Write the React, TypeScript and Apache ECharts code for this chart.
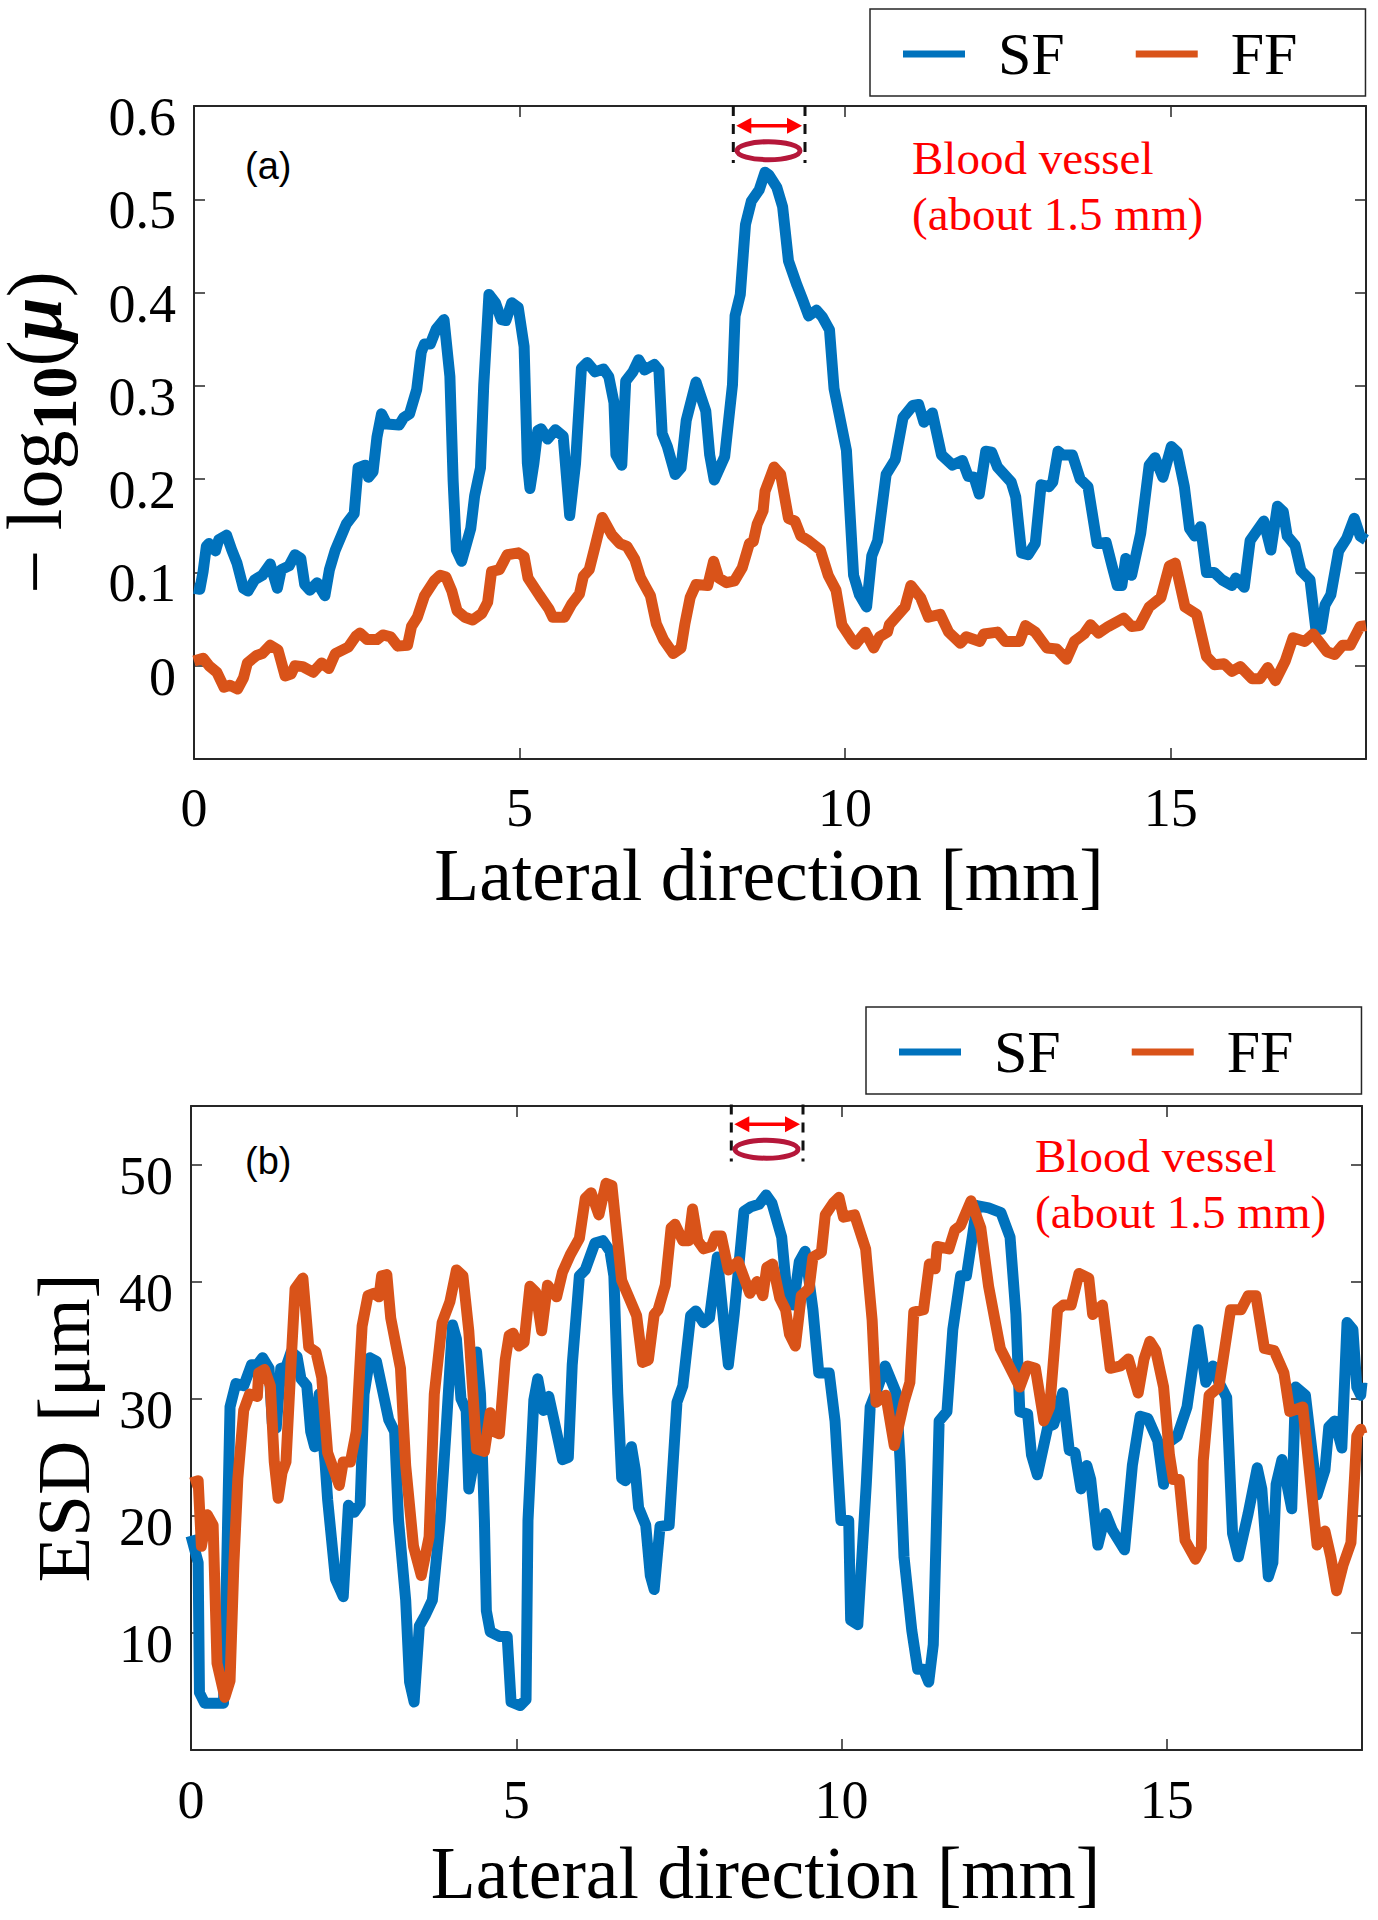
import React, { useEffect, useRef } from "react";
import * as echarts from "echarts";

type Pt = [number, number];

const xTitle = "Lateral direction [mm]";
const vesselText = "Blood vessel\n(about 1.5 mm)";
const SERIF = '"Liberation Serif", "Times New Roman", serif';
const SANS = '"Liberation Sans", Arial, sans-serif';
const BLUE = "#0072BD";
const ORANGE = "#D95319";
const FRAME = "#262626";

const sfMu: Pt[] = [[0,.083],[.09,.082],[.14,.101],[.19,.128],[.23,.131],[.33,.123],[.38,.135],[.5,.14],[.58,.124],[.66,.11],[.76,.083],[.83,.08],[.93,.092],[1.05,.097],[1.17,.109],[1.28,.083],[1.34,.103],[1.46,.107],[1.55,.119],[1.64,.115],[1.7,.087],[1.78,.081],[1.89,.089],[2.01,.075],[2.08,.103],[2.17,.124],[2.34,.152],[2.46,.163],[2.52,.212],[2.63,.215],[2.68,.202],[2.75,.208],[2.81,.245],[2.88,.27],[2.96,.259],[3.15,.258],[3.22,.266],[3.31,.27],[3.42,.296],[3.49,.336],[3.54,.345],[3.63,.345],[3.72,.361],[3.84,.371],[3.93,.31],[3.98,.198],[4.03,.124],[4.11,.112],[4.25,.147],[4.31,.182],[4.4,.212],[4.45,.301],[4.53,.398],[4.63,.389],[4.72,.371],[4.79,.37],[4.88,.389],[4.98,.384],[5.07,.342],[5.12,.217],[5.16,.19],[5.22,.217],[5.28,.252],[5.33,.254],[5.43,.243],[5.55,.253],[5.67,.246],[5.77,.161],[5.86,.217],[5.95,.319],[6.04,.325],[6.16,.315],[6.29,.318],[6.37,.31],[6.45,.282],[6.48,.226],[6.57,.215],[6.63,.305],[6.74,.315],[6.83,.328],[6.92,.317],[7.07,.323],[7.14,.317],[7.19,.249],[7.27,.235],[7.39,.205],[7.48,.212],[7.56,.263],[7.71,.304],[7.86,.273],[7.92,.226],[7.99,.199],[8.15,.224],[8.27,.301],[8.31,.375],[8.39,.398],[8.47,.473],[8.56,.498],[8.68,.51],[8.77,.529],[8.83,.526],[8.95,.513],[9.04,.492],[9.13,.434],[9.26,.408],[9.35,.392],[9.44,.375],[9.56,.381],[9.65,.374],[9.76,.36],[9.83,.297],[10.02,.231],[10.13,.097],[10.22,.076],[10.33,.063],[10.41,.118],[10.5,.134],[10.63,.205],[10.77,.221],[10.89,.266],[11.04,.279],[11.13,.28],[11.21,.261],[11.34,.271],[11.48,.226],[11.65,.215],[11.8,.22],[11.89,.203],[11.98,.202],[12.06,.184],[12.16,.23],[12.25,.229],[12.34,.213],[12.55,.197],[12.62,.181],[12.71,.121],[12.81,.119],[12.92,.131],[13.01,.194],[13.13,.192],[13.19,.197],[13.27,.23],[13.34,.226],[13.49,.226],[13.61,.2],[13.73,.192],[13.87,.131],[14.01,.132],[14.1,.107],[14.18,.086],[14.25,.086],[14.31,.115],[14.4,.097],[14.54,.142],[14.67,.215],[14.76,.223],[14.88,.202],[15.01,.235],[15.1,.229],[15.21,.192],[15.29,.147],[15.37,.139],[15.46,.149],[15.55,.1],[15.67,.1],[15.79,.092],[15.94,.086],[16,.094],[16.13,.084],[16.22,.134],[16.43,.155],[16.54,.124],[16.64,.171],[16.73,.165],[16.79,.139],[16.91,.129],[17,.102],[17.14,.092],[17.23,.039],[17.31,.039],[17.37,.065],[17.46,.076],[17.58,.123],[17.7,.136],[17.82,.158],[17.91,.139],[18,.135]];

const ffMu: Pt[] = [[0,.005],[.14,.008],[.23,0],[.35,-.007],[.46,-.023],[.55,-.021],[.67,-.025],[.76,-.013],[.82,.003],[.96,.011],[1.05,.013],[1.17,.022],[1.29,.017],[1.4,-.011],[1.49,-.009],[1.55,0],[1.67,-.001],[1.83,-.007],[1.96,.003],[2.07,-.003],[2.17,.013],[2.37,.02],[2.49,.032],[2.55,.035],[2.66,.028],[2.81,.028],[2.9,.033],[3.02,.031],[3.13,.021],[3.28,.022],[3.34,.042],[3.43,.052],[3.54,.075],[3.69,.091],[3.78,.097],[3.87,.095],[3.96,.08],[4.04,.059],[4.16,.052],[4.28,.049],[4.42,.056],[4.51,.068],[4.57,.101],[4.69,.103],[4.81,.119],[4.98,.121],[5.07,.117],[5.13,.094],[5.31,.075],[5.45,.061],[5.51,.052],[5.69,.052],[5.8,.066],[5.92,.077],[5.98,.096],[6.07,.103],[6.16,.128],[6.27,.159],[6.42,.14],[6.54,.131],[6.65,.128],[6.77,.114],[6.86,.094],[7.01,.075],[7.1,.045],[7.21,.028],[7.36,.013],[7.48,.019],[7.54,.045],[7.62,.073],[7.71,.087],[7.89,.086],[7.98,.112],[8.06,.094],[8.18,.089],[8.3,.091],[8.42,.105],[8.53,.131],[8.59,.133],[8.65,.152],[8.74,.166],[8.77,.187],[8.91,.213],[9.01,.205],[9.13,.158],[9.23,.155],[9.32,.139],[9.44,.134],[9.62,.124],[9.74,.097],[9.86,.081],[9.95,.044],[10.1,.028],[10.16,.023],[10.31,.036],[10.44,.019],[10.53,.031],[10.65,.036],[10.68,.044],[10.92,.063],[11.01,.086],[11.16,.073],[11.28,.052],[11.46,.055],[11.59,.036],[11.77,.024],[11.86,.031],[12.07,.026],[12.13,.034],[12.34,.036],[12.46,.026],[12.68,.026],[12.77,.043],[12.92,.036],[13.1,.019],[13.25,.018],[13.4,.007],[13.52,.026],[13.67,.034],[13.77,.044],[13.89,.035],[14.04,.042],[14.28,.051],[14.4,.042],[14.52,.043],[14.67,.063],[14.85,.073],[14.98,.107],[15.07,.11],[15.22,.063],[15.4,.055],[15.55,.01],[15.67,.001],[15.82,.002],[15.94,-.006],[16.07,-.001],[16.25,-.014],[16.37,-.014],[16.49,-.002],[16.61,-.016],[16.76,.005],[16.88,.03],[17.06,.026],[17.19,.034],[17.4,.015],[17.52,.012],[17.64,.022],[17.76,.022],[17.91,.042],[18,.043]];

const sfEsd: Pt[] = [[0,18.3],[.11,16],[.13,4.9],[.21,4],[.5,4],[.55,16],[.6,29.3],[.69,31.3],[.81,31.1],[.93,32.9],[1.02,32.9],[1.1,33.5],[1.2,32.6],[1.25,27.9],[1.31,27.5],[1.38,32.6],[1.46,32.7],[1.54,34],[1.63,33.6],[1.69,31.7],[1.78,31.1],[1.84,27.2],[1.9,25.9],[1.97,30.4],[2.06,24.6],[2.1,21.4],[2.22,14.6],[2.34,13.1],[2.42,20.9],[2.51,20.3],[2.6,21],[2.66,30.4],[2.75,33.5],[2.85,33.2],[3.04,28.2],[3.13,27.2],[3.19,19.6],[3.3,12.8],[3.36,5.8],[3.43,4.1],[3.51,10.6],[3.6,11.5],[3.71,12.8],[3.83,19.6],[3.92,27.2],[4.02,36.3],[4.08,35.1],[4.15,30],[4.23,29],[4.27,22.3],[4.36,25],[4.39,34],[4.45,30.4],[4.51,19.6],[4.54,11.9],[4.6,10.1],[4.74,9.7],[4.86,9.7],[4.92,4.1],[5.06,3.8],[5.15,4.3],[5.18,19.6],[5.27,29.9],[5.33,31.7],[5.42,29],[5.5,30.2],[5.59,27.9],[5.71,24.8],[5.8,25],[5.86,32.9],[5.97,40.5],[6.06,41],[6.21,43.3],[6.33,43.5],[6.44,42.6],[6.5,40.5],[6.56,30.4],[6.62,23.2],[6.68,23],[6.77,25.9],[6.83,23.9],[6.88,20.7],[6.99,19.2],[7.06,14.9],[7.12,13.7],[7.21,19.1],[7.35,19.2],[7.47,29.7],[7.56,31.1],[7.68,37.1],[7.76,37.5],[7.88,36.5],[7.97,36.9],[8.09,42.1],[8.17,37.6],[8.26,32.9],[8.35,37.2],[8.5,46],[8.61,46.4],[8.73,46.6],[8.84,47.4],[8.93,46.7],[9.08,43.8],[9.17,38.4],[9.26,38],[9.35,41.7],[9.44,42.6],[9.56,37.6],[9.65,32.2],[9.81,32.2],[9.9,28.1],[9.99,19.6],[10.11,19.6],[10.14,11.1],[10.25,10.7],[10.38,22.7],[10.44,29.3],[10.56,31],[10.67,32.8],[10.84,30.5],[10.9,24.7],[10.96,16.5],[11.08,10.2],[11.17,6.9],[11.26,6.9],[11.34,5.8],[11.41,9],[11.5,28.1],[11.62,28.9],[11.71,35.9],[11.83,40.5],[11.92,40.5],[12.02,44.2],[12.08,46.5],[12.26,46.3],[12.45,45.9],[12.59,43.8],[12.68,37.2],[12.74,28.9],[12.86,28.7],[12.92,25.2],[13.01,23.5],[13.17,27.6],[13.26,27.8],[13.4,30.5],[13.5,25.6],[13.59,25.4],[13.68,22.3],[13.77,24.3],[13.83,23.1],[13.94,17.5],[14.06,20.2],[14.16,18.8],[14.35,17.1],[14.47,24.3],[14.59,28.5],[14.71,28.3],[14.86,26.4],[14.95,22.7],[15.01,26.2],[15.16,26.8],[15.31,29.3],[15.48,35.9],[15.6,31.4],[15.71,32.8],[15.8,31.4],[15.92,30.1],[16.01,18.5],[16.1,16.5],[16.25,20.2],[16.39,24.1],[16.46,22.3],[16.56,14.8],[16.63,16],[16.68,22.7],[16.77,24.8],[16.92,20.6],[16.98,31],[17.13,30.3],[17.31,21.8],[17.43,23.9],[17.49,27.6],[17.58,28.1],[17.69,25.8],[17.77,36.5],[17.86,35.9],[17.92,31],[17.98,30.3],[18,31.4]];

const ffEsd: Pt[] = [[0,22.8],[.11,23],[.16,17.4],[.25,20.1],[.34,19.2],[.4,7.4],[.52,4.5],[.6,5.9],[.66,16],[.72,23.2],[.81,29],[.9,30.4],[1.02,30.2],[1.04,32.2],[1.13,32.5],[1.22,31.1],[1.28,24.6],[1.34,21.5],[1.4,23.7],[1.46,24.6],[1.54,33.3],[1.6,39.4],[1.72,40.3],[1.81,34.4],[1.92,34],[2.01,31.8],[2.1,25.4],[2.28,22.6],[2.34,24.6],[2.45,24.6],[2.54,27.2],[2.63,36.2],[2.72,38.8],[2.81,39],[2.89,38.7],[2.93,40.5],[3.01,40.6],[3.07,36.9],[3.22,32.6],[3.3,24.3],[3.42,17.4],[3.54,14.9],[3.66,18.2],[3.74,30.4],[3.86,36.5],[3.98,38.3],[4.08,41],[4.18,40.5],[4.27,35.8],[4.39,25.7],[4.51,25.5],[4.6,28.8],[4.65,27.2],[4.74,27],[4.83,33.3],[4.89,35.4],[4.95,35.6],[5.04,34.5],[5.12,34.8],[5.21,39.6],[5.3,39.1],[5.39,35.8],[5.48,39.7],[5.62,38.7],[5.71,40.8],[5.83,42.3],[5.97,43.7],[6.06,47.1],[6.15,47.6],[6.27,45.7],[6.38,48.4],[6.47,48.2],[6.62,40.1],[6.85,37.1],[6.94,33.1],[7.03,33.3],[7.12,37.2],[7.18,37.6],[7.29,39.7],[7.38,44.6],[7.44,44.9],[7.56,43.5],[7.65,43.5],[7.71,46.2],[7.79,43.5],[7.88,42.8],[8,43],[8.06,43.9],[8.15,43.9],[8.26,41],[8.41,41.7],[8.59,39],[8.7,40],[8.79,38.8],[8.85,41.2],[8.94,41.5],[9.05,38.6],[9.14,37.6],[9.2,35.5],[9.29,34.5],[9.38,38.8],[9.5,39.4],[9.56,42.1],[9.69,42.5],[9.75,45.7],[9.87,46.7],[9.96,47.2],[10.03,45.5],[10.2,45.7],[10.37,42.8],[10.47,36.7],[10.53,29.7],[10.68,30.3],[10.81,26],[10.96,29.7],[11.05,31.4],[11.11,37.4],[11.26,37.6],[11.35,41.5],[11.44,41.1],[11.47,43],[11.65,42.8],[11.74,44.4],[11.83,44.8],[11.99,46.9],[12.14,44.6],[12.26,39.6],[12.44,34.3],[12.74,31],[12.86,32.8],[12.98,32.6],[13.11,28.1],[13.2,29.3],[13.32,37.6],[13.41,38],[13.53,38],[13.65,40.7],[13.8,40.3],[13.86,37.2],[14.01,38],[14.13,32.6],[14.29,32.8],[14.41,33.4],[14.56,30.5],[14.65,33.4],[14.74,34.9],[14.83,34.1],[14.95,31],[15.04,25.2],[15.1,23.1],[15.19,23.1],[15.28,17.9],[15.44,16.3],[15.53,17.3],[15.56,24.7],[15.65,30.3],[15.8,31],[15.98,37.6],[16.14,37.6],[16.25,38.8],[16.37,38.8],[16.5,34.3],[16.65,34.1],[16.8,32.2],[16.89,28.9],[17.09,29.3],[17.31,17.5],[17.43,18.7],[17.52,16.5],[17.61,13.6],[17.71,15.8],[17.83,17.7],[17.92,26.8],[17.98,27.4],[18,27]];

function xAxes(gridIndex: number, nameGap: number, margin: number) {
  const base = { type: "value", gridIndex, min: 0, max: 18, interval: 5, splitLine: { show: false }, axisLine: { show: true, onZero: false, lineStyle: { color: FRAME, width: 2 } }, axisTick: { show: true, inside: true, length: 11, lineStyle: { color: FRAME, width: 1.5 } } };
  return [
    { ...base, position: "bottom", name: xTitle, nameLocation: "middle", nameGap, nameTextStyle: { fontFamily: SERIF, fontSize: 73.5, color: "#000", padding: [0, 22, 0, 0] },
      axisLabel: { show: true, margin, fontFamily: SERIF, fontSize: 54, color: "#000", showMaxLabel: false, formatter: (v: number) => (v % 5 === 0 ? String(v) : "") } },
    { ...base, position: "top", axisLabel: { show: false } },
  ];
}

function yAxes(gridIndex: number, min: number, max: number, interval: number, fmt: (v: number) => string, axisName: any) {
  const base = { type: "value", gridIndex, min, max, interval, splitLine: { show: false }, axisLine: { show: true, onZero: false, lineStyle: { color: FRAME, width: 2 } }, axisTick: { show: true, inside: true, length: 11, lineStyle: { color: FRAME, width: 1.5 } } };
  return [
    { ...base, position: "left", ...axisName, axisLabel: { show: true, margin: 18, verticalAlign: "top", lineHeight: 22, fontFamily: SERIF, fontSize: 54, color: "#000", formatter: fmt } },
    { ...base, position: "right", axisLabel: { show: false } },
  ];
}

function line(name: string, color: string, data: Pt[], axisIndex: number) {
  return { type: "line", name, data, xAxisIndex: axisIndex, yAxisIndex: axisIndex, showSymbol: false, symbol: "none", clip: true, itemStyle: { color }, lineStyle: { color, width: 11, join: "round", cap: "butt" } };
}

function legend(left: number, top: number) {
  return { show: true, data: ["SF", "FF"], orient: "horizontal", left, top, selectedMode: false, icon: "rect", itemWidth: 62, itemHeight: 7, itemGap: 71, padding: [15, 68, 12, 33], borderColor: FRAME, borderWidth: 1.5, backgroundColor: "#fff",
    textStyle: { fontFamily: SERIF, fontSize: 60, color: "#000", padding: [10, 0, 0, 28] } };
}

function vessel(dx: number, dy: number, tag: string, tagX: number, tagY: number, textX: number, textY: number) {
  const L = 733.3 + dx, R = 805 + dx, top = 106 + dy, bot = 163 + dy, ay = 125.7 + dy;
  const cx = 768.5 + dx, cy = 150.7 + dy;
  const dash = { stroke: "#111", lineWidth: 3, lineDash: [10, 8] };
  return [
    { type: "line", z: 20, shape: { x1: L, y1: top, x2: L, y2: bot }, style: dash },
    { type: "line", z: 20, shape: { x1: R, y1: top, x2: R, y2: bot }, style: dash },
    { type: "line", z: 20, shape: { x1: L + 12, y1: ay, x2: R - 12, y2: ay }, style: { stroke: "#f00", lineWidth: 3.5 } },
    { type: "polygon", z: 20, shape: { points: [[L + 3, ay], [L + 18, ay - 8], [L + 18, ay + 8]] }, style: { fill: "#f00" } },
    { type: "polygon", z: 20, shape: { points: [[R - 3, ay], [R - 18, ay - 8], [R - 18, ay + 8]] }, style: { fill: "#f00" } },
    { type: "ellipse", z: 20, shape: { cx, cy, rx: 31.5, ry: 9 }, style: { fill: "none", stroke: "#B5173A", lineWidth: 5 } },
    { type: "text", z: 20, x: tagX, y: tagY, style: { text: tag, fontFamily: SANS, fontSize: 38, fill: "#000", textVerticalAlign: "middle" } },
    { type: "text", z: 20, x: textX, y: textY, style: { text: vesselText, fontFamily: SERIF, fontSize: 47, lineHeight: 56, fill: "#f00", textVerticalAlign: "top" } },
  ];
}

export default function App() {
  const ref = useRef<HTMLDivElement>(null);
  useEffect(() => {
    const chart = echarts.init(ref.current!, undefined, { renderer: "svg" });
    const muName = {
      name: "{m|− log}{s|10}{m|(}{u|μ}{m|)}",
      nameLocation: "middle",
      nameRotate: 90,
      nameGap: 108,
      nameTextStyle: {
        fontFamily: SERIF, color: "#000",
        rich: {
          m: { fontFamily: SERIF, fontSize: 78, color: "#000", lineHeight: 84 },
          s: { fontFamily: SERIF, fontSize: 64, fontWeight: "bold", color: "#000", verticalAlign: "bottom", lineHeight: 104 },
          u: { fontFamily: SERIF, fontSize: 78, fontWeight: "bold", fontStyle: "italic", color: "#000", lineHeight: 84 },
        },
      },
    };
    const esdName = { name: "ESD [μm]", nameLocation: "middle", nameRotate: 90, nameGap: 90, nameTextStyle: { fontFamily: SERIF, fontSize: 75, color: "#000" } };
    chart.setOption({
      animation: false,
      backgroundColor: "#fff",
      grid: [
        { left: 194, top: 106, width: 1172, height: 653, containLabel: false, outerBoundsMode: "none" },
        { left: 191, top: 1106, width: 1171, height: 644, containLabel: false, outerBoundsMode: "none" },
      ],
      xAxis: [...xAxes(0, 79, 22), ...xAxes(1, 86, 23)],
      yAxis: [
        ...yAxes(0, -0.1, 0.6, 0.1, (v) => (v < 0 ? "" : String(v)), muName),
        ...yAxes(1, 0, 55, 10, (v) => (v > 0 && v % 10 === 0 ? String(v) : ""), esdName),
      ],
      legend: [legend(870, 9), legend(866, 1007)],
      series: [
        line("SF", BLUE, sfMu, 0),
        line("FF", ORANGE, ffMu, 0),
        line("SF", BLUE, sfEsd, 2),
        line("FF", ORANGE, ffEsd, 2),
      ],
      graphic: { elements: [
        ...vessel(0, 0, "(a)", 245, 166, 912, 130),
        ...vessel(-2, 998.5, "(b)", 245, 1161, 1035, 1128),
      ] },
    });
    return () => chart.dispose();
  }, []);
  return <div ref={ref} style={{ position: "absolute", left: 0, top: 0, width: 1378, height: 1920 }} />;
}
